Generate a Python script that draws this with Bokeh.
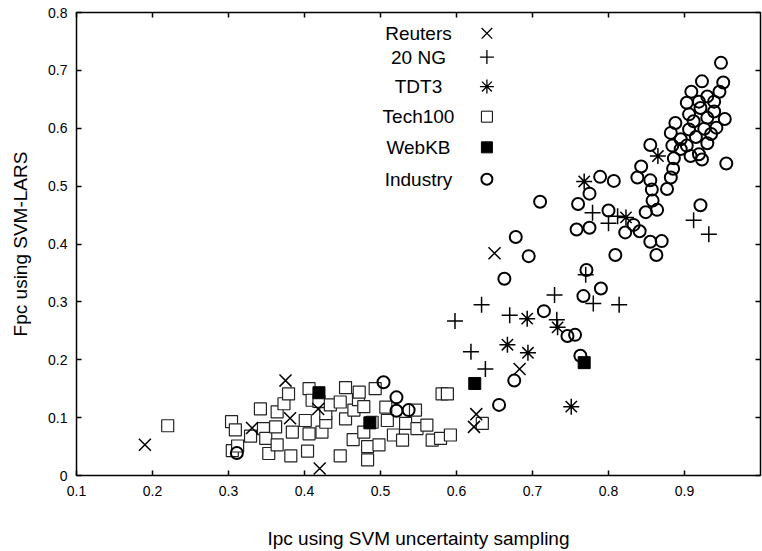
from bokeh.plotting import figure
from bokeh.models import LinearAxis, FixedTicker, Range1d, ColumnDataSource
from bokeh.core.properties import value
from bokeh.embed import file_html
from bokeh.resources import INLINE

FONT = "Liberation Sans"

# ---------------- data ----------------
reuters_x = [0.190, 0.375, 0.381, 0.331, 0.420, 0.418, 0.650, 0.683, 0.626, 0.623]
reuters_y = [0.053, 0.164, 0.099, 0.082, 0.012, 0.115, 0.384, 0.184, 0.106, 0.084]

ng20_x = [0.598, 0.619, 0.633, 0.638, 0.670, 0.729, 0.732, 0.770, 0.780, 0.814,
          0.779, 0.800, 0.812, 0.912, 0.932]
ng20_y = [0.267, 0.214, 0.295, 0.184, 0.277, 0.312, 0.269, 0.347, 0.297, 0.295,
          0.454, 0.436, 0.448, 0.441, 0.417]

tdt3_x = [0.768, 0.823, 0.865, 0.693, 0.733, 0.667, 0.694, 0.751]
tdt3_y = [0.508, 0.446, 0.552, 0.271, 0.256, 0.226, 0.212, 0.119]

tech100_x = [0.220, 0.304, 0.309, 0.305, 0.312, 0.329, 0.342, 0.346, 0.349, 0.353,
             0.362, 0.364, 0.364, 0.373, 0.379, 0.382, 0.384, 0.401, 0.404, 0.406,
             0.406, 0.410, 0.419, 0.423, 0.428, 0.428, 0.434, 0.447, 0.447, 0.454,
             0.454, 0.464, 0.465, 0.471, 0.472, 0.478, 0.478, 0.483, 0.483, 0.489,
             0.493, 0.498, 0.507, 0.509, 0.517, 0.529, 0.533, 0.546, 0.548, 0.561,
             0.568, 0.579, 0.592, 0.581, 0.588, 0.634]
tech100_y = [0.086, 0.093, 0.079, 0.043, 0.051, 0.068, 0.115, 0.081, 0.064, 0.038,
             0.084, 0.053, 0.110, 0.124, 0.141, 0.034, 0.075, 0.095, 0.042, 0.150,
             0.072, 0.130, 0.128, 0.075, 0.092, 0.107, 0.122, 0.127, 0.034, 0.152,
             0.098, 0.062, 0.113, 0.131, 0.144, 0.119, 0.075, 0.050, 0.027, 0.092,
             0.150, 0.053, 0.118, 0.095, 0.070, 0.061, 0.090, 0.113, 0.081, 0.087,
             0.061, 0.064, 0.070, 0.141, 0.141, 0.090]

webkb_x = [0.419, 0.486, 0.624, 0.768]
webkb_y = [0.143, 0.091, 0.159, 0.195]

industry_x = [0.311, 0.504, 0.521, 0.521, 0.537, 0.656, 0.676, 0.663, 0.678, 0.695,
              0.710, 0.715, 0.746, 0.756, 0.763, 0.767, 0.771, 0.790, 0.809,
              0.758, 0.760, 0.775, 0.775, 0.789, 0.807, 0.800, 0.822, 0.833, 0.841,
              0.855, 0.870, 0.863, 0.849, 0.864, 0.838, 0.843, 0.855, 0.857, 0.858,
              0.855, 0.877, 0.882, 0.885, 0.886, 0.921, 0.955,
              0.882, 0.888, 0.884, 0.895, 0.895, 0.903, 0.908, 0.919, 0.923, 0.930,
              0.906, 0.912, 0.906, 0.903, 0.909, 0.921, 0.919, 0.923, 0.926, 0.930,
              0.930, 0.939, 0.939, 0.942, 0.946, 0.951, 0.948, 0.953, 0.935, 0.915]
industry_y = [0.039, 0.161, 0.135, 0.112, 0.113, 0.122, 0.164, 0.340, 0.412, 0.379,
              0.473, 0.284, 0.241, 0.243, 0.207, 0.310, 0.355, 0.323, 0.381,
              0.425, 0.469, 0.428, 0.487, 0.516, 0.509, 0.458, 0.420, 0.433, 0.422,
              0.404, 0.405, 0.381, 0.455, 0.459, 0.515, 0.534, 0.510, 0.494, 0.475,
              0.571, 0.495, 0.515, 0.530, 0.548, 0.467, 0.539,
              0.592, 0.609, 0.570, 0.581, 0.564, 0.570, 0.552, 0.555, 0.546, 0.574,
              0.598, 0.612, 0.624, 0.644, 0.663, 0.635, 0.646, 0.681, 0.599, 0.618,
              0.655, 0.646, 0.629, 0.601, 0.663, 0.679, 0.713, 0.616, 0.590, 0.585]

x_ticks = [0.1, 0.2, 0.3, 0.4, 0.5, 0.6, 0.7, 0.8, 0.9]
x_tick_labels = ["0.1", "0.2", "0.3", "0.4", "0.5", "0.6", "0.7", "0.8", "0.9"]
y_ticks = [0.0, 0.1, 0.2, 0.3, 0.4, 0.5, 0.6, 0.7, 0.8]
y_tick_labels = ["0", "0.1", "0.2", "0.3", "0.4", "0.5", "0.6", "0.7", "0.8"]

legend_labels = ["Reuters", "20 NG", "TDT3", "Tech100", "WebKB", "Industry"]
legend_text_y = [0.764, 0.723, 0.672, 0.620, 0.567, 0.512]
legend_text_x = 0.550
legend_mark_x = 0.640

# ---------------- figure ----------------
p = figure(width=762, height=551, output_backend="svg", toolbar_location=None,
           x_range=Range1d(0.1, 1.0), y_range=Range1d(0.0, 0.8),
           min_border_left=76, min_border_right=2, min_border_top=12, min_border_bottom=72,
           x_axis_label="Ipc using SVM uncertainty sampling",
           y_axis_label="Fpc using SVM-LARS")
p.grid.visible = False
p.outline_line_color = "black"
p.outline_line_width = 1.5
p.background_fill_color = "white"
p.border_fill_color = "white"

def style_axis(ax, ticks, labels, show_labels=True):
    ax.ticker = FixedTicker(ticks=ticks)
    ax.major_label_overrides = {t: l for t, l in zip(ticks, labels)}
    ax.major_tick_in = 5
    ax.major_tick_out = 0
    ax.minor_tick_line_color = None
    ax.major_tick_line_color = "black"
    ax.major_tick_line_width = 1.5
    ax.axis_line_color = None
    ax.major_label_text_font = FONT
    ax.major_label_text_color = "black"
    if show_labels:
        ax.major_label_text_font_size = "14px"
    else:
        ax.major_label_text_font_size = "0px"
        ax.major_label_standoff = 0

style_axis(p.xaxis[0], x_ticks, x_tick_labels)
style_axis(p.yaxis[0], y_ticks, y_tick_labels)
p.xaxis[0].major_label_standoff = 10
p.yaxis[0].major_label_standoff = 9
for ax in (p.xaxis[0], p.yaxis[0]):
    ax.axis_label_text_font = FONT
    ax.axis_label_text_font_style = "normal"
    ax.axis_label_text_font_size = "19px"
    ax.axis_label_text_color = "black"
p.xaxis[0].axis_label_standoff = 29
p.yaxis[0].axis_label_standoff = 14

top_ax = LinearAxis()
style_axis(top_ax, x_ticks, ["" for _ in x_ticks], show_labels=False)
p.add_layout(top_ax, "above")
right_ax = LinearAxis()
style_axis(right_ax, y_ticks, ["" for _ in y_ticks], show_labels=False)
p.add_layout(right_ax, "right")

# ---------------- data marks ----------------
p.scatter(tech100_x, tech100_y, marker="square", size=12, fill_color="white",
          line_color="#222222", line_width=1.2)
p.scatter(reuters_x, reuters_y, marker="x", size=17, line_color="black", line_width=1.5)
p.scatter(ng20_x, ng20_y, marker="cross", size=16, line_color="black", line_width=1.5)
p.scatter(tdt3_x, tdt3_y, marker="asterisk", size=16, line_color="black", line_width=1.5)
p.scatter(webkb_x, webkb_y, marker="square", size=12, fill_color="black", line_color="black")
p.scatter(industry_x, industry_y, marker="circle", size=12, fill_color=None,
          line_color="black", line_width=2)

# ---------------- legend (text left, symbol right) ----------------
leg_src = ColumnDataSource(dict(
    x=[legend_text_x] * len(legend_labels), y=legend_text_y, t=legend_labels,
))
p.text(x="x", y="y", text="t", source=leg_src, text_align="center",
       text_baseline="middle", text_font=value(FONT), text_font_size="19px",
       text_color="black")
markers = ["x", "cross", "asterisk", "square", "square", "circle"]
fills = [None, None, None, "white", "black", "white"]
widths = [1.3, 1.3, 1.3, 1.0, 1.0, 2.0]
sizes = [15, 14, 14, 11, 11, 11]
for i, (m, f, w, s) in enumerate(zip(markers, fills, widths, sizes)):
    p.scatter([legend_mark_x], [legend_text_y[i]], marker=m, size=s,
              fill_color=f, line_color="black", line_width=w)

open("out.html", "w").write(file_html(p, INLINE))
